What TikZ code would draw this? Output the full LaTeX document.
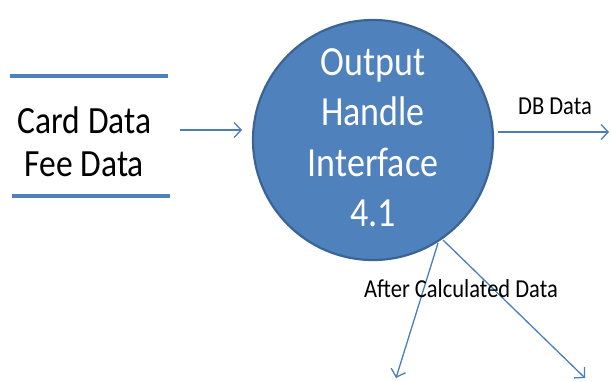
\documentclass[tikz,border=0pt]{standalone}
\usepackage{fontspec}
\setmainfont{Carlito}
\usetikzlibrary{arrows.meta}
\definecolor{fillblue}{HTML}{4F81BD}
\definecolor{edgeblue}{HTML}{3A6494}
\definecolor{lineblue}{HTML}{4A7EBB}
\newcommand{\tallbox}[1]{\scalebox{1}[1.15]{\begin{tabular}{@{}c@{}}#1\end{tabular}}}
\tikzset{
  flow/.style={draw=lineblue, line width=1.3pt, -{Straight Barb[length=7pt,width=15pt,line width=1.3pt]}},
  storebar/.style={draw=fillblue, line width=4.5pt},
  proc/.style={circle, draw=edgeblue, line width=2.2pt, fill=fillblue, minimum size=240pt, inner sep=0pt},
  proctxt/.style={text=white, inner sep=0pt, font=\fontsize{36}{43.5}\selectfont},
  lbl/.style={font=\fontsize{22.5}{27}\selectfont, inner sep=0pt, text=black},
  storetxt/.style={font=\fontsize{33.5}{37.4}\selectfont, align=center, inner sep=0pt}
}
\begin{document}
\begin{tikzpicture}[x=1pt,y=-1pt]
\useasboundingbox (0,0) rectangle (611,381);
% data store
\coordinate (s1a) at (10,76);
\coordinate (s1b) at (168,76);
\coordinate (s2a) at (12,196);
\coordinate (s2b) at (170,196);
\draw[storebar] (s1a) -- (s1b);
\draw[storebar] (s2a) -- (s2b);
\node[storetxt] (store) at (84.5,146) {\tallbox{Card Data\\Fee Data}};
% process
\node[proc] (p) at (373,140) {};
\node[proctxt] (ptxt) at (373,141) {\tallbox{Output\\Handle\\Interface\\4.1}};
% flows
\coordinate (inA) at (180,130);
\coordinate (inB) at (242,130);
\draw[flow] (inA) -- (inB);
\coordinate (dbA) at (498,132);
\coordinate (dbB) at (609,132);
\draw[flow] (dbA) -- (dbB);
\node[lbl] (dbl) at (555,108) {\tallbox{DB Data}};
\coordinate (d1a) at (438,243);
\coordinate (d1b) at (396,378);
\coordinate (d2a) at (443,240);
\coordinate (d2b) at (585,378);
\draw[flow] (d1a) -- (d1b);
\draw[flow] (d2a) -- (d2b);
\node[lbl] (acl) at (461,291) {\tallbox{After Calculated Data}};
\end{tikzpicture}
\end{document}
